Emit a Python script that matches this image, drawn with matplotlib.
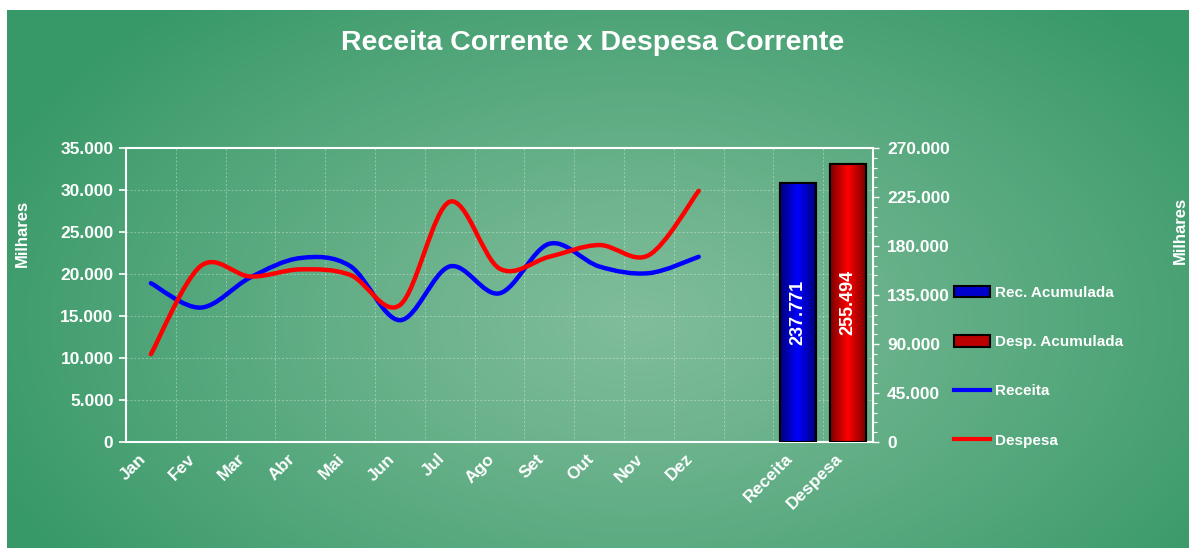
import numpy as np
import matplotlib
matplotlib.use("Agg")
import matplotlib.pyplot as plt
import matplotlib.transforms as mtransforms
from matplotlib.path import Path
from matplotlib.patches import PathPatch, Patch
from matplotlib.lines import Line2D
from matplotlib.colors import LinearSegmentedColormap
from matplotlib.ticker import FuncFormatter, MultipleLocator, FixedLocator

plt.rcParams['font.family'] = ['Liberation Sans', 'DejaVu Sans']

# data
meses = ["Jan", "Fev", "Mar", "Abr", "Mai", "Jun", "Jul", "Ago", "Set", "Out", "Nov", "Dez"]
receita = [18900, 16000, 19600, 21900, 20950, 14500, 20900, 17700, 23600, 20900, 20100, 22050]
despesa = [10450, 20950, 19700, 20550, 19900, 16300, 28600, 20650, 22050, 23450, 22250, 29900]
acum_labels = ["Receita", "Despesa"]
acum_values = [237771, 255494]

W, H = 1189, 548
fig = plt.figure(figsize=(W / 100, H / 100), dpi=100)
fig.patch.set_facecolor("white")

# radial green background
bg = fig.add_axes([7 / W, 0, 1 - 7 / W, 1 - 10 / H], zorder=-10)
yy, xx = np.mgrid[0:538, 0:1182]
r = np.sqrt(((xx - 630) / 700.0) ** 2 + ((yy - 310) / 420.0) ** 2)
r = np.clip(r, 0, 1) ** 1.1
c_in = np.array([0x80, 0xbd, 0x9b]) / 255
c_out = np.array([0x38, 0x99, 0x68]) / 255
img = c_in[None, None, :] * (1 - r[..., None]) + c_out[None, None, :] * r[..., None]
bg.imshow(img, aspect="auto", extent=[0, 1, 0, 1], origin="upper")
bg.set_axis_off()

fmt = FuncFormatter(lambda v, p: f"{int(round(v)):,}".replace(",", "."))

ax = fig.add_axes([126 / W, (H - 442) / H, 747 / W, 294 / H])
ax.set_facecolor("none")
ncat = len(meses) + 1 + len(acum_labels)
ax.set_xlim(-0.5, ncat - 0.5)
ax.set_ylim(0, 35000)
ax.yaxis.set_major_locator(MultipleLocator(5000))
ax.yaxis.set_major_formatter(fmt)

# smoothed lines (cubic bezier through the points)
def smooth_path(xs, ys):
    pts = np.column_stack([xs, ys]).astype(float)
    n = len(pts)
    verts = [pts[0]]
    codes = [Path.MOVETO]
    for i in range(n - 1):
        p0 = pts[i - 1] if i > 0 else pts[i]
        p1 = pts[i]
        p2 = pts[i + 1]
        p3 = pts[i + 2] if i + 2 < n else pts[i + 1]
        c1 = p1 + (p2 - p0) / 6
        c2 = p2 - (p3 - p1) / 6
        verts += [c1, c2, p2]
        codes += [Path.CURVE4] * 3
    return Path(verts, codes)

xm = np.arange(len(meses))
for vals, col in [(receita, "#0000ff"), (despesa, "#ff0000")]:
    ax.add_patch(PathPatch(smooth_path(xm, vals), fill=False, edgecolor=col,
                           lw=3.2, capstyle="round", joinstyle="round", zorder=3))

xticks = list(range(len(meses))) + [len(meses) + 1 + i for i in range(len(acum_labels))]
ax.set_xticks(xticks)
ax.xaxis.set_minor_locator(FixedLocator(np.arange(0.5, ncat - 0.5, 1)))
ax.tick_params(axis="x", which="both", length=0, pad=8)
ax.tick_params(axis="y", colors="white", labelsize=12.5, length=5, width=1.2, pad=4)
ax.set_xticklabels(meses + acum_labels, rotation=45, ha="right", va="top",
                   rotation_mode="anchor", color="white", fontsize=12.5, fontweight="bold")
shift = mtransforms.ScaledTranslation(-13 / 100, 2 / 100, fig.dpi_scale_trans)
for t in ax.get_xticklabels():
    t.set_transform(t.get_transform() + shift)
for t in ax.get_yticklabels():
    t.set_fontweight("bold")
ax.grid(True, axis="y", which="major", color="white", alpha=0.35, lw=0.7, ls=(0, (2, 2)))
ax.grid(True, axis="x", which="minor", color="white", alpha=0.35, lw=0.7, ls=(0, (2, 2)))
for s in ax.spines.values():
    s.set_color("white")
    s.set_linewidth(1.5)

# accumulated bars on secondary axis
ax2 = ax.twinx()
ax2.set_ylim(0, 270000)
ax2.yaxis.set_major_locator(MultipleLocator(45000))
ax2.yaxis.set_minor_locator(MultipleLocator(9000))
ax2.yaxis.set_major_formatter(fmt)
ax2.tick_params(axis="y", which="major", colors="white", labelsize=12.5, length=4, width=1, pad=6)
ax2.tick_params(axis="y", which="minor", colors="white", length=3, width=0.8)
for t in ax2.get_yticklabels():
    t.set_fontweight("bold")
for s in ax2.spines.values():
    s.set_visible(False)

bar_x = [len(meses) + 1 + i for i in range(len(acum_labels))]
grads = [["#00007a", "#0000ff", "#00007a"], ["#7a0000", "#ff0000", "#7a0000"]]
bars = ax2.bar(bar_x, acum_values, width=0.72, color=["#0000cc", "#cc0000"],
               edgecolor="black", lw=1.5, zorder=2)
grad = np.linspace(0, 1, 64)[None, :]
for b, g in zip(bars, grads):
    cm = LinearSegmentedColormap.from_list("g", g)
    im = ax2.imshow(grad, cmap=cm, aspect="auto", zorder=2.5,
                    extent=[b.get_x(), b.get_x() + b.get_width(), 0, b.get_height()])
    im.set_clip_path(b)
    ax2.bar(b.get_x() + b.get_width() / 2, b.get_height(), width=b.get_width(),
            fill=False, edgecolor="black", lw=1.5, zorder=3)
    ax2.text(b.get_x() + b.get_width() / 2, b.get_height() / 2, fmt(b.get_height(), None),
             rotation=90, ha="center", va="center", color="white",
             fontsize=13, fontweight="bold", zorder=4)
ax2.set_xlim(-0.5, ncat - 0.5)
ax2.set_ylim(0, 270000)

fig.text(593 / W, 1 - 43 / H, "Receita Corrente x Despesa Corrente", ha="center", va="center",
         color="white", fontsize=20.5, fontweight="bold")
fig.text(22 / W, 1 - 233 / H, "Milhares", rotation=90, ha="center", va="center",
         color="white", fontsize=12, fontweight="bold")
fig.text(1180 / W, 1 - 230 / H, "Milhares", rotation=90, ha="center", va="center",
         color="white", fontsize=12, fontweight="bold")

handles = [Patch(facecolor="#0000cc", edgecolor="black", lw=1.5),
           Patch(facecolor="#bb0000", edgecolor="black", lw=1.5),
           Line2D([], [], color="#0000ff", lw=3),
           Line2D([], [], color="#ff0000", lw=3)]
leg = fig.legend(handles, ["Rec. Acumulada", "Desp. Acumulada", "Receita", "Despesa"],
                 loc="upper left", bbox_to_anchor=(940 / W, 1 - 272 / H), frameon=False,
                 handlelength=2.4, handleheight=0.8, handletextpad=0.3,
                 labelspacing=2.3, prop={"weight": "bold", "size": 11})
for t in leg.get_texts():
    t.set_color("white")

fig.savefig("out.png", dpi=100)
